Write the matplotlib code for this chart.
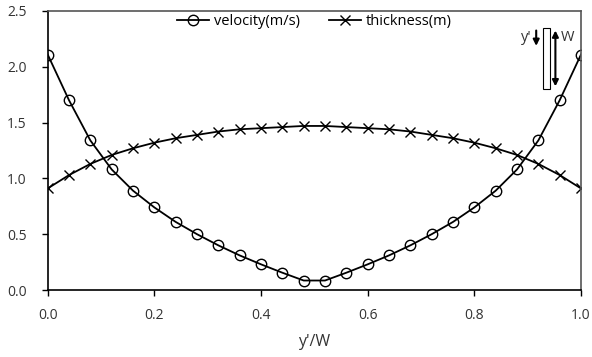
import numpy as np
import matplotlib.pyplot as plt
from matplotlib.patches import Rectangle

plt.rcParams['font.family'] = ['Open Sans', 'DejaVu Sans']

# half profile, y'/W from 0 to 0.48 (mirrored for the other half)
x_half = [0.00, 0.04, 0.08, 0.12, 0.16, 0.20, 0.24, 0.28, 0.32, 0.36, 0.40, 0.44, 0.48]
vel_half = [2.11, 1.70, 1.34, 1.08, 0.89, 0.74, 0.61, 0.50, 0.40, 0.31, 0.23, 0.155, 0.085]
thk_half = [0.91, 1.03, 1.13, 1.21, 1.27, 1.32, 1.36, 1.39, 1.42, 1.44, 1.45, 1.46, 1.47]

x = np.concatenate([x_half, 1 - np.array(x_half[::-1])])
velocity = np.concatenate([vel_half, vel_half[::-1]])
thickness = np.concatenate([thk_half, thk_half[::-1]])

fig = plt.figure(figsize=(5.92, 3.57), dpi=100)
ax = fig.add_axes([47.7 / 592, 67 / 357, 533.3 / 592, 279 / 357])

ax.plot(x, velocity, '-o', color='black', lw=1.3, ms=7.5, mfc='none', mew=1.0,
        label='velocity(m/s)')
ax.plot(x, thickness, '-x', color='black', lw=1.3, ms=7, mew=1.0,
        label='thickness(m)')

ax.set_xlim(0, 1)
ax.set_ylim(0, 2.5)
ax.set_xticks(np.arange(0, 1.01, 0.2))
ax.set_yticks(np.arange(0, 2.51, 0.5))
ax.xaxis.set_major_formatter(plt.FormatStrFormatter('%.1f'))
ax.yaxis.set_major_formatter(plt.FormatStrFormatter('%.1f'))
ax.tick_params(direction='out', length=4, width=1, labelsize=10, colors='black',
               labelcolor='#333333')
ax.tick_params(axis='x', pad=9)
ax.tick_params(axis='y', pad=11)
ax.set_xlabel("y'/W", fontsize=11.5, color='#333333', labelpad=8)

for s in ['left', 'bottom']:
    ax.spines[s].set_color('black')
    ax.spines[s].set_linewidth(1.2)
for s in ['top', 'right']:
    ax.spines[s].set_color('#555555')
    ax.spines[s].set_linewidth(1.2)

ax.legend(loc='upper center', ncol=2, frameon=False, fontsize=10.5,
          bbox_to_anchor=(0.5, 1.035), handlelength=2.2, handletextpad=0.3,
          columnspacing=2.0)

# small schematic in the top right corner
tr = ax.transAxes
ax.text(0.897, 0.905, "y'", transform=tr, ha='center', va='center', fontsize=10.5,
        color='#333333')
ax.annotate('', xy=(0.916, 0.865), xytext=(0.916, 0.94), xycoords=tr,
            arrowprops=dict(arrowstyle='-|>', color='black', lw=1.5, mutation_scale=9))
ax.add_patch(Rectangle((0.929, 0.72), 0.012, 0.22, transform=tr, fill=False,
                       ec='black', lw=0.8))
ax.annotate('', xy=(0.952, 0.72), xytext=(0.952, 0.94), xycoords=tr,
            arrowprops=dict(arrowstyle='<|-|>', color='black', lw=1.5, mutation_scale=9))
ax.text(0.975, 0.905, 'W', transform=tr, ha='center', va='center', fontsize=10.5,
        color='#333333')

fig.savefig('out.png', dpi=100)
